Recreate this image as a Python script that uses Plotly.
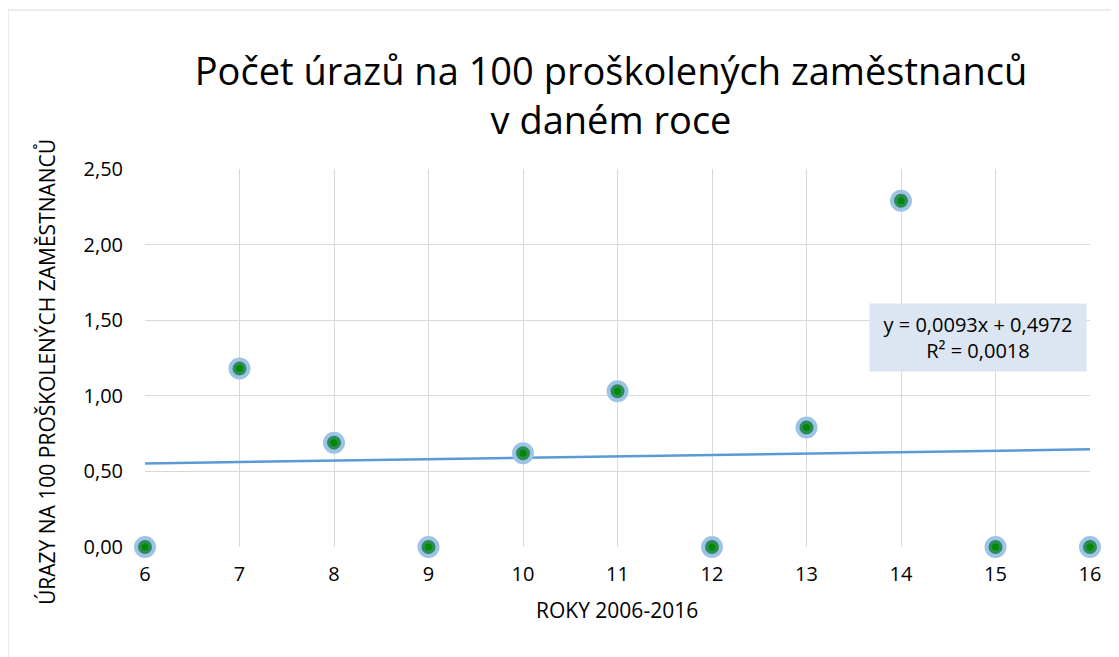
import plotly.graph_objects as go

years = [6, 7, 8, 9, 10, 11, 12, 13, 14, 15, 16]
injuries = [0.0, 1.18, 0.69, 0.0, 0.62, 1.03, 0.0, 0.79, 2.29, 0.0, 0.0]
trend_slope = 0.0093
trend_intercept = 0.4972
y_ticks = [0, 0.5, 1.0, 1.5, 2.0, 2.5]

FONT = "Open Sans"
OFF = 8  # page body margin
W, H = 1119 - OFF, 657 - OFF
L, R, T, B = 145 - OFF, 29, 169 - OFF, 110
pw, ph = W - L - R, H - T - B

trend_x = [years[0], years[-1]]
trend_y = [trend_slope * x + trend_intercept for x in trend_x]

fig = go.Figure()
fig.add_trace(go.Scatter(x=trend_x, y=trend_y, mode="lines",
                         line=dict(color="#5b9bd5", width=2.5),
                         hoverinfo="skip", showlegend=False, cliponaxis=False))
fig.add_trace(go.Scatter(x=years, y=injuries, mode="markers",
                         marker=dict(size=18, color="#2e8b57",
                                     line=dict(color="#9dc3e6", width=4)),
                         showlegend=False, cliponaxis=False))
fig.add_trace(go.Scatter(x=years, y=injuries, mode="markers",
                         marker=dict(size=7, color="#008a00"),
                         hoverinfo="skip", showlegend=False, cliponaxis=False))

def px_x(p):
    return (p - OFF - L) / pw

def px_y(p):
    return (H - B - (p - OFF)) / ph

fig.update_layout(
    width=W, height=H,
    margin=dict(l=L, r=R, t=T, b=B),
    paper_bgcolor="white", plot_bgcolor="white",
    separators=", ",
    font=dict(family=FONT, color="#000000"),
    title=dict(text="Počet úrazů na 100 proškolených zaměstnanců<br>v daném roce",
               x=(611 - OFF) / W, xanchor="center", y=1 - (85 - OFF) / H, yanchor="middle",
               font=dict(family=FONT, size=38, color="#000000")),
    xaxis=dict(range=[6, 16], tickvals=years, showgrid=True, gridcolor="#d9d9d9",
               gridwidth=1, zeroline=False, showline=False, ticks="",
               ticklabelstandoff=13, tickfont=dict(size=20, color="#000000")),
    yaxis=dict(range=[0, 2.5], tickvals=y_ticks, tickformat=".2f", showgrid=True,
               gridcolor="#d9d9d9", gridwidth=1, zeroline=False, showline=False,
               ticks="", ticklabelstandoff=21, tickfont=dict(size=20, color="#000000")),
    annotations=[
        dict(text="ROKY 2006-2016", xref="paper", yref="paper", x=px_x(617), y=px_y(610),
             showarrow=False, font=dict(size=21, color="#000000"), xanchor="center", yanchor="middle"),
        dict(text="ÚRAZY NA 100 PROŠKOLENÝCH ZAMĚSTNANCŮ", xref="paper", yref="paper",
             x=px_x(47), y=px_y(372), textangle=-90, showarrow=False,
             font=dict(size=21, color="#000000"), xanchor="center", yanchor="middle"),
        dict(text="y = 0,0093x + 0,4972<br>R² = 0,0018", xref="paper", yref="paper",
             x=px_x(978), y=px_y(337), showarrow=False, align="center",
             font=dict(size=20, color="#000000"), bgcolor="#dce6f2",
             width=200, height=51, borderpad=8, xanchor="center", yanchor="middle"),
    ],
    shapes=[dict(type="rect", xref="paper", yref="paper",
                 x0=px_x(8), x1=px_x(1140), y0=px_y(680), y1=px_y(10),
                 line=dict(color="#d9d9d9", width=1), fillcolor="rgba(0,0,0,0)", layer="below")],
)

fig.write_html("out.html")
